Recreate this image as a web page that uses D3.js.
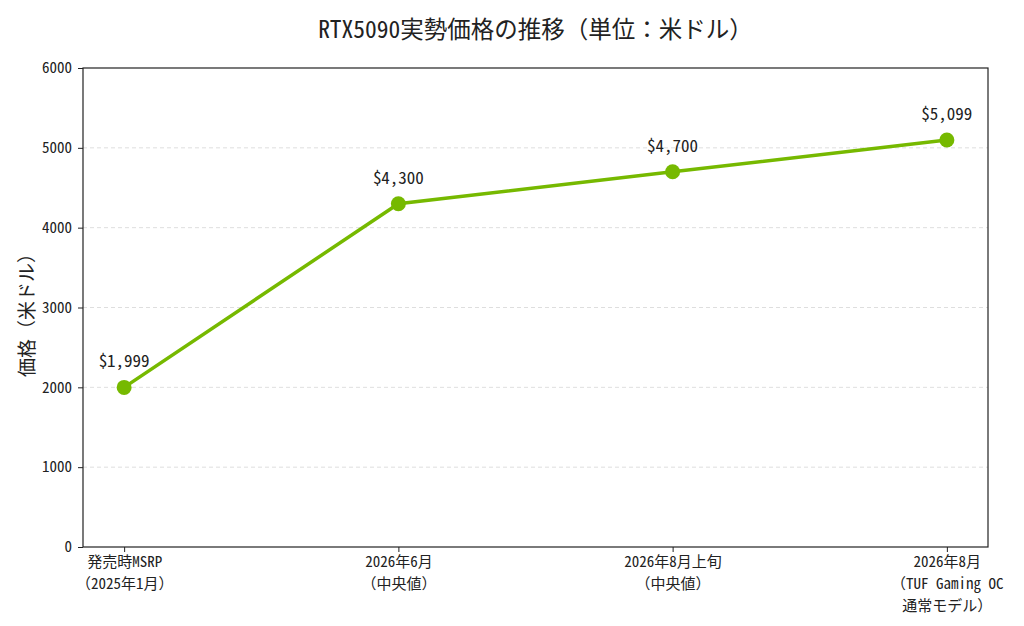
<!DOCTYPE html>
<html>
<head>
<meta charset="utf-8">
<script src="https://cdn.jsdelivr.net/npm/d3@7"></script>
<style>
  body { margin: 0; background: #fff; }
  svg text { font-family: "Noto Sans Mono CJK JP", "Noto Sans CJK JP", "DejaVu Sans Mono", monospace; fill: #222; }
</style>
</head>
<body>
<svg id="chart" width="1024" height="626"></svg>
<script>
// RTX5090 street price trend, line chart with labelled points

const categories = [
  ['発売時MSRP', '（2025年1月）'],
  ['2026年6月', '（中央値）'],
  ['2026年8月上旬', '（中央値）'],
  ['2026年8月', '（TUF Gaming OC', '通常モデル）'],
];
const prices = [1999, 4300, 4700, 5099];
const priceLabels = ['$1,999', '$4,300', '$4,700', '$5,099'];
const yTicks = [0, 1000, 2000, 3000, 4000, 5000, 6000];

const svg = d3.select('#chart');
const plot = { left: 83, right: 988, top: 68, bottom: 547 };
const green = '#76b900';

const x = d3.scaleLinear().domain([-0.15, categories.length - 1 + 0.15]).range([plot.left, plot.right]);
const y = d3.scaleLinear().domain([0, 6000]).range([plot.bottom, plot.top]);

// grid
svg.append('g').selectAll('line')
  .data(yTicks.filter((t) => t > 0 && t < 6000))
  .join('line')
  .attr('x1', plot.left).attr('x2', plot.right)
  .attr('y1', (d) => y(d)).attr('y2', (d) => y(d))
  .attr('stroke', '#d6d6d6').attr('stroke-width', 0.8)
  .attr('stroke-dasharray', '4,3');

// frame
svg.append('rect')
  .attr('x', plot.left).attr('y', plot.top)
  .attr('width', plot.right - plot.left).attr('height', plot.bottom - plot.top)
  .attr('fill', 'none').attr('stroke', '#222').attr('stroke-width', 1.2);

// y axis
const yAxis = svg.append('g')
  .attr('transform', `translate(${plot.left},0)`)
  .call(d3.axisLeft(y).tickValues(yTicks).tickSize(5).tickPadding(6).tickFormat(d3.format('d')));
yAxis.select('.domain').remove();
yAxis.selectAll('text').style('font-size', '15px');
yAxis.selectAll('line').attr('stroke', '#222');

// x axis
const xAxis = svg.append('g')
  .attr('transform', `translate(0,${plot.bottom})`)
  .call(d3.axisBottom(x).tickValues(d3.range(categories.length)).tickSize(5).tickFormat(''));
xAxis.select('.domain').remove();
xAxis.selectAll('line').attr('stroke', '#222');
xAxis.selectAll('.tick').each(function (d) {
  const t = d3.select(this).append('text')
    .attr('text-anchor', 'middle')
    .style('font-size', '15px')
    .attr('fill', '#222');
  categories[d].forEach((line, i) => {
    t.append('tspan').attr('x', 0).attr('y', 20 + i * 22).text(line);
  });
});

// line + points
svg.append('path')
  .datum(prices)
  .attr('fill', 'none')
  .attr('stroke', green)
  .attr('stroke-width', 3.5)
  .attr('d', d3.line().x((d, i) => x(i)).y((d) => y(d)));

svg.append('g').selectAll('circle')
  .data(prices)
  .join('circle')
  .attr('cx', (d, i) => x(i))
  .attr('cy', (d) => y(d))
  .attr('r', 7.5)
  .attr('fill', green);

svg.append('g').selectAll('text')
  .data(prices)
  .join('text')
  .attr('x', (d, i) => x(i))
  .attr('y', (d) => y(d) - 20)
  .attr('text-anchor', 'middle')
  .style('font-size', '17px')
  .text((d, i) => priceLabels[i]);

// title + y label
svg.append('text')
  .attr('x', (plot.left + plot.right) / 2).attr('y', 38)
  .attr('text-anchor', 'middle')
  .style('font-size', '23.5px')
  .text('RTX5090実勢価格の推移（単位：米ドル）');

svg.append('text')
  .attr('transform', `translate(34,${(plot.top + plot.bottom) / 2 + 3}) rotate(-90)`)
  .attr('text-anchor', 'middle')
  .style('font-size', '19px')
  .text('価格（米ドル）');
</script>
</body>
</html>
